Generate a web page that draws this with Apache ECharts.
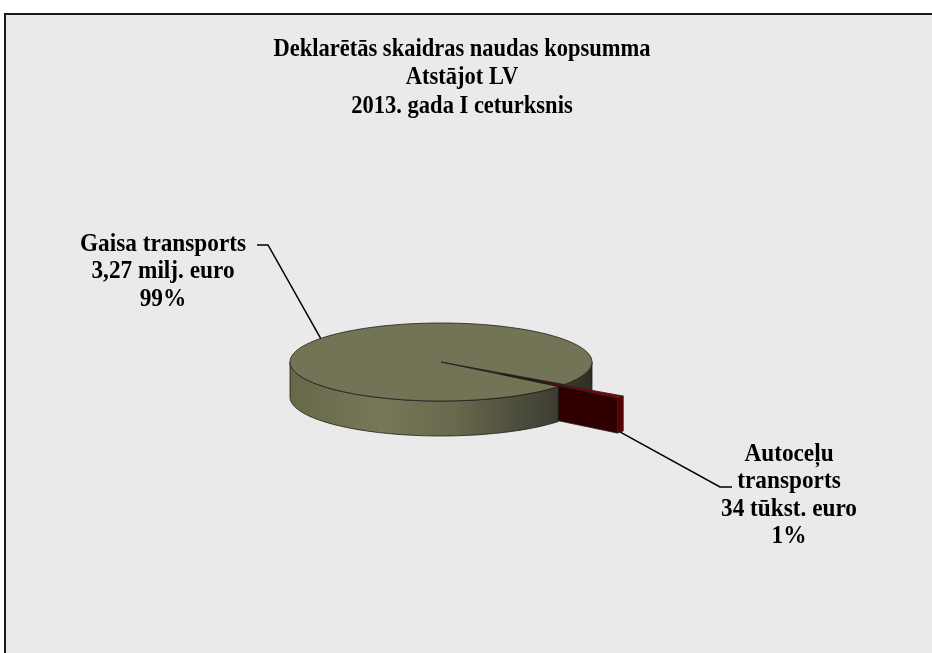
<!DOCTYPE html>
<html>
<head>
<meta charset="utf-8">
<script src="https://cdn.jsdelivr.net/npm/echarts@6/dist/echarts.min.js"></script>
<style>
  html, body { margin: 0; padding: 0; background: #fff; }
  #chart { width: 932px; height: 653px; }
</style>
</head>
<body>
<div id="chart"></div>
<script>
const categories = ['Gaisa transports', 'Autoceļu transports']
const values = [3270, 34] // tūkst. euro
const amountLabels = ['3,27 milj. euro', '34 tūkst. euro']
const titleLines = ['Deklarētās skaidras naudas kopsumma', 'Atstājot LV', '2013. gada I ceturksnis']

const total = values.reduce((a, b) => a + b, 0)
const percentLabels = values.map(v => Math.round(v / total * 100) + '%')

// pie layout (pixels)
const PIE = { cx: 441, cy: 362, rx: 151, ry: 39, depth: 35, startAngle: 39 }
const explode = [0, 0.49]
const SERIF = '"Liberation Serif", "Times New Roman", serif'

const sliceStyle = [
  {
    top: '#737355',
    side: new echarts.graphic.LinearGradient(PIE.cx - PIE.rx, 0, PIE.cx + PIE.rx, 0, [
      { offset: 0, color: '#67674a' },
      { offset: 0.3, color: '#777759' },
      { offset: 0.55, color: '#68684c' },
      { offset: 0.8, color: '#47473a' },
      { offset: 1, color: '#2e2e24' },
    ], true),
    face: '#3c3c2e',
  },
  { top: '#8e0000', side: '#5a0000', face: '#300000' },
]

const labelLayout = [
  { x: 163, y: 231, elbow: [268, 245], end: [257, 245], wrap: false },
  { x: 789, y: 441, elbow: [720, 487], end: [732, 487], wrap: true },
]

const rad = d => d * Math.PI / 180

function pt(t, off, z) {
  return [PIE.cx + off[0] + PIE.rx * Math.cos(rad(t)), PIE.cy + off[1] + PIE.ry * Math.sin(rad(t)) + z]
}

function arc(a, b, off, z) {
  const n = Math.max(2, Math.ceil((b - a) / 2))
  const pts = []
  for (let k = 0; k <= n; k++) pts.push(pt(a + (b - a) * k / n, off, z))
  return pts
}

// parts of [a, b] facing the viewer (lower half of the ellipse)
function frontRanges(a, b) {
  const res = []
  for (let n = Math.floor(a / 360) - 1; n <= Math.ceil(b / 360); n++) {
    const s = Math.max(a, 360 * n), e = Math.min(b, 360 * n + 180)
    if (e > s) res.push([s, e])
  }
  return res
}

const centroidY = pts => pts.reduce((s, p) => s + p[1], 0) / pts.length

function renderItem(params, api) {
  const i = params.dataIndex
  const before = values.slice(0, i).reduce((s, v) => s + v, 0)
  const a = PIE.startAngle + 360 * before / total
  const b = a + 360 * api.value(0) / total
  const m = (a + b) / 2
  const k = explode[i]
  const off = [k * PIE.rx * Math.cos(rad(m)), k * PIE.ry * Math.sin(rad(m))]
  const st = sliceStyle[i]
  const H = PIE.depth
  const stroke = { stroke: '#1e1e1e', lineWidth: 0.8 }
  const children = []
  const centerTop = [PIE.cx + off[0], PIE.cy + off[1]]

  // outer side
  frontRanges(a, b).forEach(([s, e]) => {
    const pts = arc(s, e, off, 0).concat(arc(s, e, off, H).reverse())
    children.push({ type: 'polygon', shape: { points: pts }, style: { fill: st.side, ...stroke }, z2: centroidY(pts) })
  })

  // cut faces that look towards the viewer
  const cutFace = t => {
    const pts = [centerTop, pt(t, off, 0), pt(t, off, H), [centerTop[0], centerTop[1] + H]]
    children.push({ type: 'polygon', shape: { points: pts }, style: { fill: st.face, ...stroke }, z2: centroidY(pts) })
  }
  if (Math.cos(rad(a)) < 0) cutFace(a)
  if (Math.cos(rad(b)) > 0) cutFace(b)

  // top
  children.push({
    type: 'polygon',
    shape: { points: [centerTop].concat(arc(a, b, off, 0)) },
    style: { fill: st.top, ...stroke },
    z2: 1000 + i,
  })

  // leader line + label
  const L = labelLayout[i]
  const anchor = Math.sin(rad(m)) > 0 ? pt(m, off, H) : pt(m, off, 0)
  children.push({
    type: 'polyline',
    shape: { points: [anchor, L.elbow, L.end] },
    style: { stroke: '#000', lineWidth: 1.5, fill: null },
    z2: 2000,
  })
  const name = L.wrap ? categories[i].split(' ').join('\n') : categories[i]
  children.push({
    type: 'text',
    x: L.x, y: L.y,
    scaleX: 0.95,
    z2: 2001,
    style: {
      text: name + '\n' + amountLabels[i] + '\n' + percentLabels[i],
      x: 0, y: 0,
      fontFamily: SERIF,
      fontWeight: 'bold',
      fontSize: 24.5,
      fill: '#000',
      align: 'center',
      verticalAlign: 'top',
      lineHeight: 27.3,
    },
  })
  return { type: 'group', children }
}

const chart = echarts.init(document.getElementById('chart'))
chart.setOption({
  animation: false,
  backgroundColor: '#ffffff',
  graphic: [
    {
      type: 'rect',
      z: -10,
      shape: { x: 5, y: 14, width: 940, height: 700 },
      style: { fill: '#eaeaea', stroke: '#1a1a1a', lineWidth: 2 },
    },
    {
      type: 'text',
      x: 462, y: 35,
      scaleX: 0.9,
      style: {
        text: titleLines.join('\n'),
        fontFamily: SERIF,
        fontWeight: 'bold',
        fontSize: 25,
        lineHeight: 28.5,
        fill: '#000',
        align: 'center',
        verticalAlign: 'top',
      },
    },
  ],
  series: [{
    type: 'custom',
    coordinateSystem: 'none',
    renderItem,
    data: values.map((v, i) => ({ name: categories[i], value: v })),
  }],
})
</script>
</body>
</html>
